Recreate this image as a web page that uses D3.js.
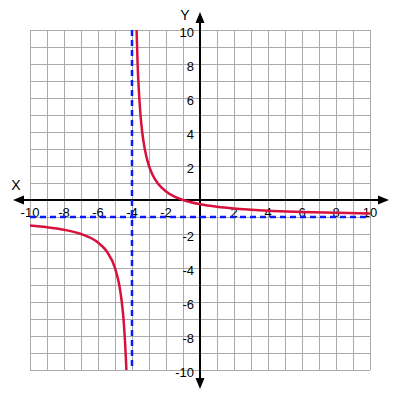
<!DOCTYPE html>
<html><head><meta charset="utf-8">
<script src="https://cdn.jsdelivr.net/npm/d3@7"></script>
<style>body{margin:0;background:#fff}svg{display:block}text{font-family:"Liberation Sans",Arial,sans-serif}</style>
</head><body>
<svg id="c" width="400" height="400"></svg>
<script>
const xTicks = [-10,-8,-6,-4,-2,2,4,6,8,10];
const yTicks = [-10,-8,-6,-4,-2,2,4,6,8,10];
const gridValues = d3.range(-10, 11, 1);
const asymptoteX = -4;
const asymptoteY = -1;
// right branch
const rightX = [-3.73,-3.67,-3.6,-3.5,-3.4,-3.25,-3,-2.8,-2.5,-2,-1.5,-1,0,1,2,3,4,6,8,10];
const rightY = [10,8,6.5,5,4,3,2,1.5,1,0.5,0.2,0,-0.25,-0.4,-0.5,-0.57,-0.63,-0.7,-0.75,-0.79];
// left branch
const leftX = [-10,-9,-8,-7,-6,-5.5,-5,-4.75,-4.6,-4.5,-4.43,-4.375,-4.33];
const leftY = [-1.5,-1.6,-1.75,-2,-2.5,-3,-4,-5,-6,-7,-8,-9,-10];

const svg = d3.select("#c");
const x = d3.scaleLinear().domain([-10,10]).range([30,370]);
const y = d3.scaleLinear().domain([-10,10]).range([370,30]);

// grid
svg.append("g").selectAll("line.v").data(gridValues).join("line")
  .attr("x1", d=>x(d)).attr("x2", d=>x(d)).attr("y1", y(10)).attr("y2", y(-10))
  .attr("stroke", "#aaa").attr("stroke-width", 1).attr("shape-rendering","crispEdges");
svg.append("g").selectAll("line.h").data(gridValues).join("line")
  .attr("y1", d=>y(d)).attr("y2", d=>y(d)).attr("x1", x(-10)).attr("x2", x(10))
  .attr("stroke", "#aaa").attr("stroke-width", 1).attr("shape-rendering","crispEdges");

// axes
svg.append("line").attr("x1", 20).attr("x2", 380).attr("y1", y(0)).attr("y2", y(0))
  .attr("stroke","#000").attr("stroke-width",2);
svg.append("line").attr("x1", x(0)).attr("x2", x(0)).attr("y1", 20).attr("y2", 380)
  .attr("stroke","#000").attr("stroke-width",2);
const arrows = [
  [[13,200],[24,195.5],[24,204.5]],
  [[389,200],[378,195.5],[378,204.5]],
  [[200,12],[195.5,23],[204.5,23]],
  [[200,389],[195.5,378],[204.5,378]]
];
svg.append("g").selectAll("path").data(arrows).join("path")
  .attr("d", d=>"M"+d.map(p=>p.join(",")).join("L")+"Z").attr("fill","#000");

svg.append("text").attr("x",16).attr("y",190).attr("text-anchor","middle").attr("font-size",14).text("X");
svg.append("text").attr("x",185).attr("y",20).attr("text-anchor","middle").attr("font-size",14).text("Y");

// tick labels
svg.append("g").selectAll("text").data(xTicks).join("text")
  .attr("x", d=>x(d)).attr("y", 217).attr("text-anchor","middle").attr("font-size",13)
  .text(d=>d);
svg.append("g").selectAll("text").data(yTicks).join("text")
  .attr("x", 194).attr("y", d=>y(d)+7).attr("text-anchor","end").attr("font-size",13)
  .text(d=>d);

// asymptotes
svg.append("line").attr("x1", x(asymptoteX)).attr("x2", x(asymptoteX)).attr("y1", y(10)).attr("y2", y(-10))
  .attr("stroke","#0a1aff").attr("stroke-width",2.5).attr("stroke-dasharray","6,4");
svg.append("line").attr("x1", x(-10)).attr("x2", x(10)).attr("y1", y(asymptoteY)).attr("y2", y(asymptoteY))
  .attr("stroke","#0a1aff").attr("stroke-width",2.5).attr("stroke-dasharray","6,4");

// curve
const line = d3.line().x(d=>x(d[0])).y(d=>y(d[1])).curve(d3.curveMonotoneX);
const branches = [d3.zip(leftX,leftY), d3.zip(rightX,rightY)];
svg.append("g").selectAll("path").data(branches).join("path")
  .attr("d", line).attr("fill","none").attr("stroke","#d8113c").attr("stroke-width",2.5);
</script>
</body></html>
